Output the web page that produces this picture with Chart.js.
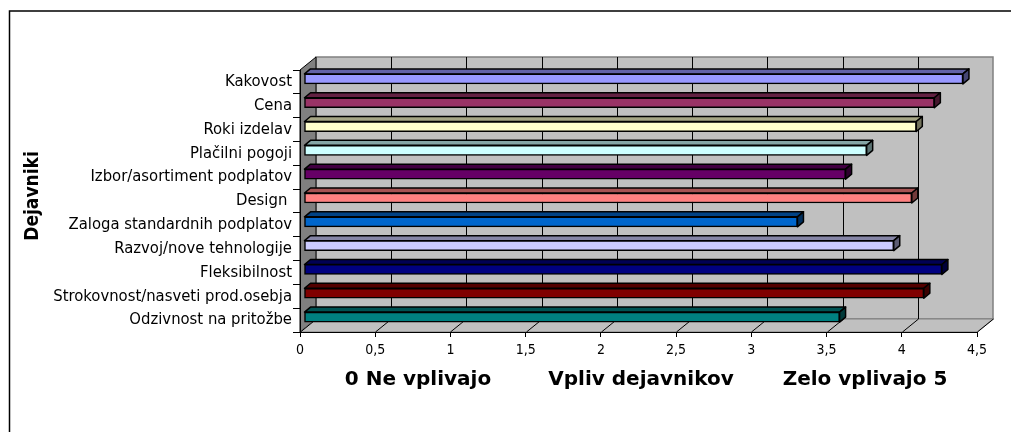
<!DOCTYPE html>
<html>
<head>
<meta charset="utf-8">
<script src="https://cdn.jsdelivr.net/npm/chart.js@4"></script>
<style>
  html, body { margin: 0; padding: 0; background: #fff; }
  #wrap { width: 1011px; height: 432px; }
</style>
</head>
<body>
<div id="wrap"><canvas id="factorChart" width="1011" height="432"></canvas></div>
<script>
const categories = [
    'Kakovost',
    'Cena',
    'Roki izdelav',
    'Plačilni pogoji',
    'Izbor/asortiment podplatov',
    'Design ',
    'Zaloga standardnih podplatov',
    'Razvoj/nove tehnologije',
    'Fleksibilnost',
    'Strokovnost/nasveti prod.osebja',
    'Odzivnost na pritožbe'
];
const values = [4.38, 4.19, 4.07, 3.74, 3.60, 4.04, 3.28, 3.92, 4.24, 4.12, 3.56];
const barColors = ['#9999FF', '#993366', '#FFFFCC', '#CCFFFF', '#660066', '#FF8080',
                   '#0066CC', '#CCCCFF', '#000080', '#800000', '#008080'];
const xMin = 0;
const xMax = 4.5;
const xStep = 0.5;
const yTitle = 'Dejavniki';
const bottomTitles = ['0 Ne vplivajo', 'Vpliv dejavnikov', 'Zelo vplivajo 5'];

const FONT = 'DejaVu Sans Condensed';
const wallDepth = { dx: 16, dy: -13 };   // front plane -> back wall
const barShift = { dx: 4, dy: -3 };      // bars sit a bit behind the front plane
const barDepth = { dx: 6, dy: -5 };

function shade(hex, f) {
    const n = parseInt(hex.slice(1), 16);
    const r = Math.round(((n >> 16) & 255) * f);
    const g = Math.round(((n >> 8) & 255) * f);
    const b = Math.round((n & 255) * f);
    return `rgb(${r},${g},${b})`;
}

function poly(ctx, pts, fill, stroke, lw) {
    ctx.beginPath();
    ctx.moveTo(pts[0][0], pts[0][1]);
    for (let i = 1; i < pts.length; i++) ctx.lineTo(pts[i][0], pts[i][1]);
    ctx.closePath();
    if (fill) { ctx.fillStyle = fill; ctx.fill(); }
    if (stroke) { ctx.strokeStyle = stroke; ctx.lineWidth = lw || 1; ctx.stroke(); }
}

const box3d = {
    id: 'box3d',
    beforeDraw(chart) {
        const ctx = chart.ctx;
        const a = chart.chartArea;
        const xs = chart.scales.x;
        const { dx, dy } = wallDepth;
        ctx.save();
        ctx.fillStyle = '#fff';
        ctx.fillRect(0, 0, chart.width, chart.height);

        // outer frame (only top and left edges are in view)
        ctx.strokeStyle = '#000';
        ctx.lineWidth = 1.5;
        ctx.beginPath();
        ctx.moveTo(9.5, chart.height);
        ctx.lineTo(9.5, 11);
        ctx.lineTo(chart.width, 11);
        ctx.stroke();

        // back wall
        poly(ctx, [[a.left + dx, a.top + dy], [a.right + dx, a.top + dy],
                   [a.right + dx, a.bottom + dy], [a.left + dx, a.bottom + dy]], '#C0C0C0', '#808080', 1.5);
        // side wall
        poly(ctx, [[a.left, a.top], [a.left + dx, a.top + dy],
                   [a.left + dx, a.bottom + dy], [a.left, a.bottom]], '#808080', '#000', 1);
        // floor
        poly(ctx, [[a.left, a.bottom], [a.right, a.bottom],
                   [a.right + dx, a.bottom + dy], [a.left + dx, a.bottom + dy]], '#C0C0C0', '#808080', 1);

        // gridlines on back wall and floor
        ctx.strokeStyle = '#000';
        ctx.lineWidth = 1;
        xs.ticks.forEach(t => {
            const px = Math.round(xs.getPixelForValue(t.value)) + 0.5;
            if (t.value > xMin && t.value < xMax) {
                ctx.beginPath();
                ctx.moveTo(px + dx, a.top + dy);
                ctx.lineTo(px + dx, a.bottom + dy);
                ctx.stroke();
            }
            ctx.beginPath();
            ctx.moveTo(px, a.bottom);
            ctx.lineTo(px + dx, a.bottom + dy);
            ctx.stroke();
        });
        ctx.restore();
    },
    beforeDatasetsDraw(chart) {
        const ctx = chart.ctx;
        ctx.save();
        ctx.translate(barShift.dx, barShift.dy);
        const meta = chart.getDatasetMeta(0);
        const { dx, dy } = barDepth;
        ctx.lineJoin = 'round';
        meta.data.forEach((el, i) => {
            const p = el.getProps(['x', 'y', 'base', 'height'], true);
            const top = p.y - p.height / 2;
            const bot = p.y + p.height / 2;
            const l = p.base, r = p.x;
            poly(ctx, [[l, top], [r, top], [r + dx, top + dy], [l + dx, top + dy]],
                 shade(barColors[i], 0.65), '#000', 1.5);
            poly(ctx, [[r, top], [r + dx, top + dy], [r + dx, bot + dy], [r, bot]],
                 shade(barColors[i], 0.45), '#000', 1.5);
        });
    },
    afterDatasetsDraw(chart) {
        chart.ctx.restore();
    },
    afterDraw(chart) {
        const ctx = chart.ctx;
        ctx.save();
        ctx.fillStyle = '#000';
        ctx.font = `bold 19px "${FONT}"`;
        ctx.textAlign = 'center';
        ctx.textBaseline = 'middle';
        ctx.translate(33, 196);
        ctx.rotate(-Math.PI / 2);
        ctx.fillText(yTitle, 0, 0);
        ctx.restore();

        ctx.save();
        ctx.fillStyle = '#000';
        ctx.font = 'bold 20px "DejaVu Sans"';
        ctx.textAlign = 'center';
        ctx.textBaseline = 'middle';
        const centers = [418, 641, 865];
        bottomTitles.forEach((t, i) => ctx.fillText(t, centers[i], 380));
        ctx.restore();
    }
};

new Chart(document.getElementById('factorChart'), {
    type: 'bar',
    data: {
        labels: categories,
        datasets: [{
            data: values,
            backgroundColor: barColors,
            borderColor: '#000',
            borderWidth: 1.5,
            borderSkipped: false,
            barThickness: 10,
            clip: false
        }]
    },
    options: {
        indexAxis: 'y',
        responsive: false,
        animation: false,
        layout: { padding: { left: 0, right: 34, top: 70, bottom: 0 } },
        plugins: {
            legend: { display: false },
            tooltip: { enabled: false }
        },
        scales: {
            x: {
                type: 'linear',
                min: xMin,
                max: xMax,
                afterFit: s => { s.height = 100; },
                ticks: {
                    stepSize: xStep,
                    color: '#000',
                    padding: 5,
                    font: { family: FONT, size: 14 },
                    callback: v => String(v).replace('.', ',')
                },
                grid: { drawOnChartArea: false, drawTicks: true, tickLength: 5, color: '#000' },
                border: { display: true, color: '#000', width: 1 }
            },
            y: {
                afterFit: s => { s.width = 300; },
                ticks: {
                    color: '#000',
                    padding: 1,
                    font: { family: FONT, size: 16.5 }
                },
                grid: { offset: true, drawOnChartArea: false, tickLength: 7, color: '#000' },
                border: { display: true, color: '#000', width: 1 }
            }
        }
    },
    plugins: [box3d]
});
</script>
</body>
</html>
